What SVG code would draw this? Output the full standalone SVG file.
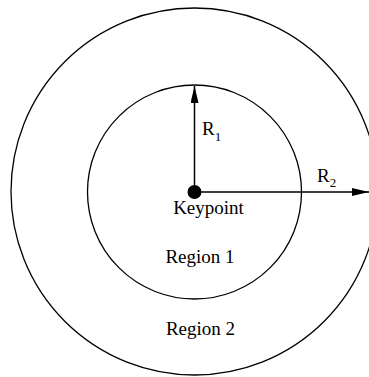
<svg xmlns="http://www.w3.org/2000/svg" width="369" height="377" viewBox="0 0 369 377">
<style>
.c{fill:none;stroke:#000;stroke-width:1.3}
.l{stroke:#000;stroke-width:1.5;fill:none}
text{font-family:"Liberation Serif","Times New Roman",serif;font-size:19px;fill:#000}
.m{text-anchor:middle}
.s{font-size:13px}
</style>
<defs>
<marker id="ah" markerWidth="17" markerHeight="8" refX="17" refY="4" orient="auto" markerUnits="userSpaceOnUse">
<path d="M0,0 L17,4 L0,8 Z" fill="#000"/>
</marker>
</defs>
<rect width="369" height="377" fill="#fff"/>
<g id="region2"><circle class="c" cx="194.5" cy="191.5" r="183.5"/><text class="m" x="200.5" y="335">Region 2</text></g>
<g id="region1"><circle class="c" cx="194.5" cy="192" r="107"/><text class="m" x="200" y="263">Region 1</text></g>
<g id="connectors">
<line class="l" x1="194.5" y1="192" x2="194.5" y2="86" marker-end="url(#ah)"/>
<line class="l" x1="194.5" y1="192" x2="369" y2="192" marker-end="url(#ah)"/>
</g>
<g id="keypoint"><circle cx="194.5" cy="192" r="7" fill="#000"/><text class="m" x="208.5" y="214">Keypoint</text></g>
<g id="r1"><text x="202" y="135">R<tspan class="s" dy="6">1</tspan></text></g>
<g id="r2"><text x="317" y="182">R<tspan class="s" dy="5">2</tspan></text></g>
</svg>
